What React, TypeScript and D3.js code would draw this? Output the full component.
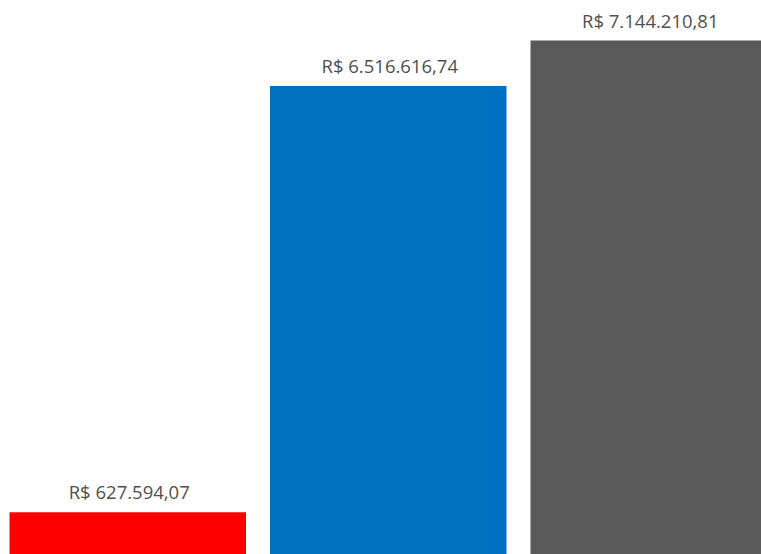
import React from "react";
import * as d3 from "d3";

const categories = ["A", "B", "C"];
const values = [627594.07, 6516616.74, 7144210.81];
const labels = ["R$ 627.594,07", "R$ 6.516.616,74", "R$ 7.144.210,81"];
const colors = ["#FF0000", "#0070C0", "#595959"];

const W = 761;
const H = 554;

export default function App() {
  const x = d3
    .scaleBand<string>()
    .domain(categories)
    .range([9.5, 767])
    .paddingInner(24 / 260.5)
    .paddingOuter(0);
  const y = d3.scaleLinear().domain([0, 7144210.81]).range([557.7, 40.5]);

  return (
    <svg
      width={W}
      height={H}
      style={{ position: "absolute", left: 0, top: 0, background: "#fff" }}
    >
      <rect x={0} y={0} width={W} height={H} fill="#fff" />
      {categories.map((c, i) => (
        <g key={c}>
          <rect
            x={x(c)}
            y={y(values[i])}
            width={x.bandwidth()}
            height={y(0) - y(values[i])}
            fill={colors[i]}
          />
          <text
            x={(x(c) as number) + x.bandwidth() / 2 + 1.5}
            y={y(values[i]) - 13}
            textAnchor="middle"
            fontFamily="'Open Sans', sans-serif"
            fontSize={18.5}
            fill="#505050"
          >
            {labels[i]}
          </text>
        </g>
      ))}
    </svg>
  );
}
